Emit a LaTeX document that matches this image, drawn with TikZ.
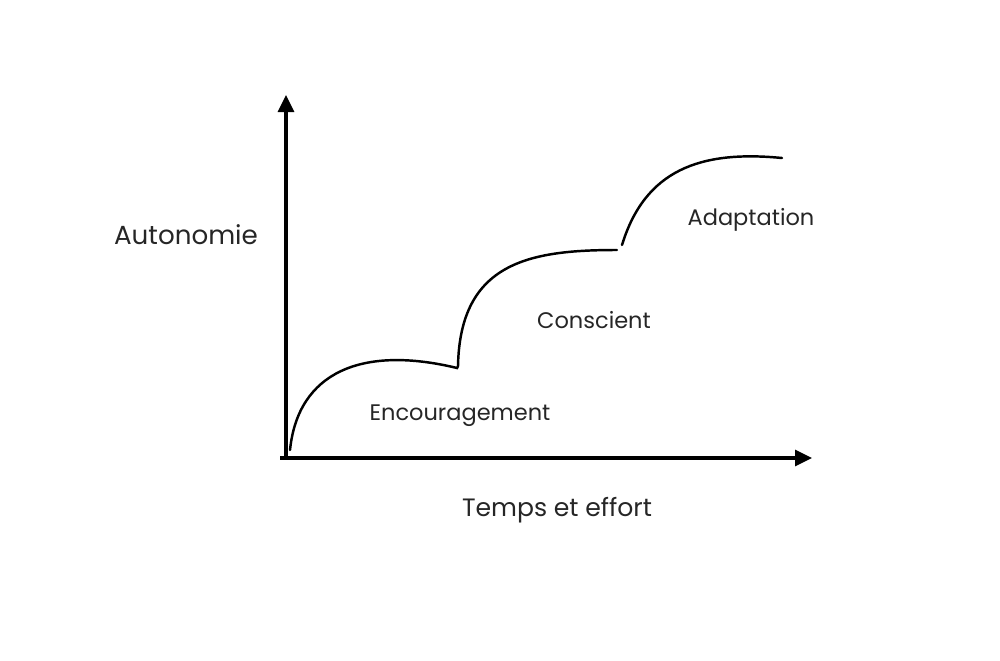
\documentclass[tikz,border=0pt]{standalone}
\usepackage{fontspec}
\setmainfont{Poppins}
\usepackage{tikz}
\usetikzlibrary{arrows.meta,positioning}

\begin{document}
\begin{tikzpicture}[x=0.02cm, y=-0.02cm,
    axis/.style={line width=1.8pt, -{Triangle[length=0.34cm, width=0.32cm]}},
    phase/.style={line width=1.4pt, line cap=round},
    steplabel/.style={font=\fontsize{12.8}{15}\selectfont, text=black!85, anchor=center},
    axislabel/.style={font=\fontsize{14.3}{17}\selectfont, text=black!85, anchor=center}]

    % Frame of the picture, in pixels of the 1000x660 reference
    \useasboundingbox (0,0) rectangle (1000,660);

    % Axes
    \coordinate (origin) at (286,458);
    \coordinate (ytip) at (286,95);
    \coordinate (xstart) at (280,458);
    \coordinate (xtip) at (812,458);
    \draw[axis] (origin) -- (ytip);
    \draw[axis] (xstart) -- (xtip);

    % Three learning phases
    \coordinate (p1s) at (290,450);
    \coordinate (p1e) at (457,368);
    \coordinate (p2e) at (617,250);
    \coordinate (p3s) at (622,245);
    \coordinate (p3e) at (782,158);
    \draw[phase] (p1s) .. controls (298,372) and (362,345) .. (p1e)
                 -- (458,366) .. controls (460,262) and (530,250) .. (p2e);
    \draw[phase] (p3s) .. controls (645,170) and (700,150) .. (p3e);

    % Labels
    \node[axislabel, font=\fontsize{14.9}{17}\selectfont] (yname) at (186,235) {Autonomie};
    \node[axislabel] (xname) at (557,510) {Temps et effort};
    \node[steplabel] (enc) at (460,416) {Encouragement};
    \node[steplabel] (con) at (594,320) {Conscient};
    \node[steplabel] (ada) at (751,220) {Adaptation};
\end{tikzpicture}
\end{document}
